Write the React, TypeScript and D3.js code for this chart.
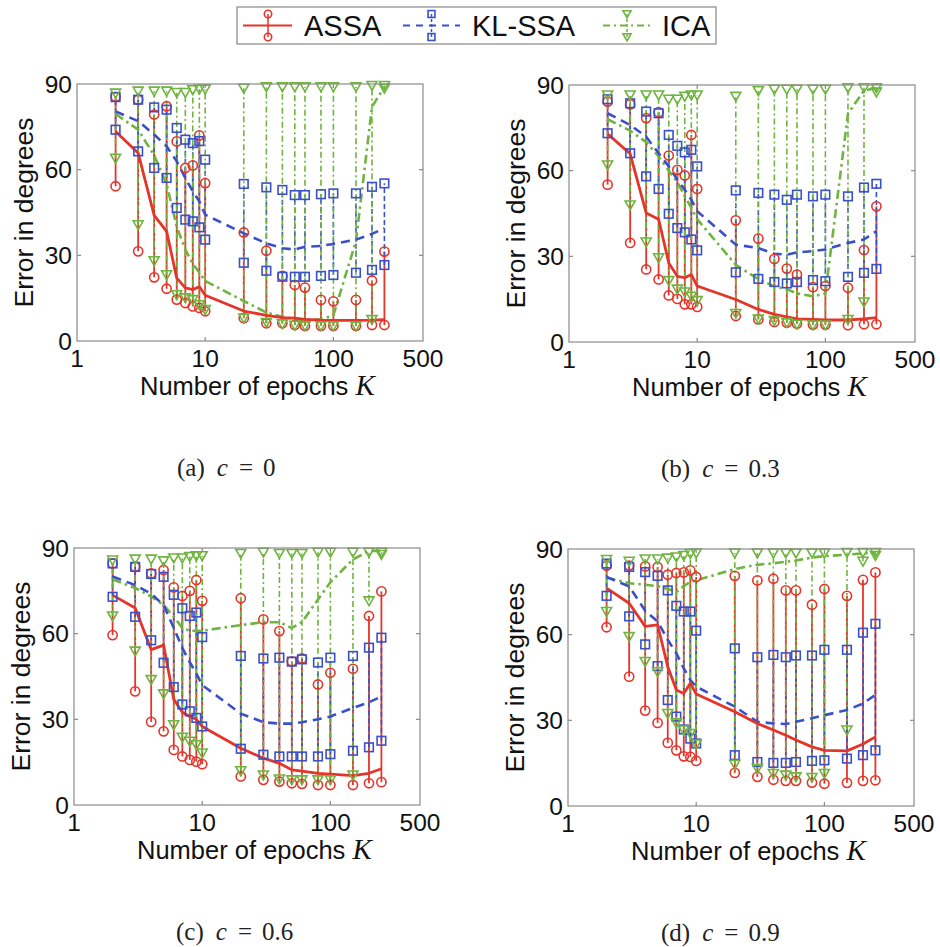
import React from 'react';
import * as d3 from 'd3';

// ---------- data ----------
const K = [2, 3, 4, 5, 6, 7, 8, 9, 10, 20, 30, 40, 50, 60, 80, 100, 150, 200, 250];
const xTickValues = [1, 10, 100, 500];
const yTickValues = [0, 30, 60, 90];
const seriesNames = ['ASSA', 'KL-SSA', 'ICA'];
const panelLetters = ['a', 'b', 'c', 'd'];
const panelC = ['0', '0.3', '0.6', '0.9'];

// panel (a) c = 0
const assaA_mean = [73.4, 65.8, 44, 38.4, 22, 18.6, 18, 19, 16, 10.5, 9, 8.2, 8, 7.6, 7.3, 7.2, 7.2, 7.3, 7.5];
const assaA_up = [85.5, 84.5, 79.3, 82.2, 69.9, 60.6, 61.5, 72, 55.3, 38, 31.6, 22.8, 19.6, 18.7, 14.4, 13.9, 14.4, 21.2, 31.3];
const assaA_lo = [54.2, 31.4, 22.3, 18.3, 14.5, 13.3, 12.1, 11.6, 10.4, 8, 6.2, 6.2, 5.6, 5.3, 5.3, 5.3, 5.3, 5.6, 5.6];
const klA_mean = [80.4, 77, 72.3, 68.2, 62.9, 57.1, 52.4, 48.9, 44.2, 37.7, 34.2, 32.5, 32, 33, 33.3, 34, 35.5, 37.5, 39.5];
const klA_up = [85.4, 84.5, 81.8, 81, 74.6, 70.5, 69.3, 70, 63.5, 55, 53.8, 52.9, 51.1, 51.1, 51.4, 51.7, 51.7, 54, 55.2];
const klA_lo = [74, 66.4, 60.6, 57.1, 46.6, 42.5, 41.9, 39.8, 35.5, 27.4, 24.6, 22.5, 22.5, 22.5, 22.8, 23.1, 23.9, 24.9, 26.6];
const icaA_mean = [79.5, 74, 65, 55, 40, 32, 27, 24, 21, 14, 10, 8.5, 7.5, 7.5, 7.5, 9, 35, 82, 89];
const icaA_up = [86.8, 87.5, 87.5, 87.5, 87, 87, 88, 88.2, 88.2, 88.5, 89, 89, 89, 89, 89, 89, 89, 89.5, 89.5];
const icaA_lo = [64, 40.7, 28.1, 23.2, 16.2, 15.1, 14.5, 12.7, 11, 8, 6.5, 6, 5.5, 5.3, 5.3, 5.3, 5.2, 7.5, 88.5];

// panel (b) c = 0.3
const assaB_mean = [72.9, 65.9, 45.2, 43, 27.7, 23, 22.5, 23.6, 19.6, 14.9, 11.4, 9.7, 8.8, 8.1, 7.9, 7.7, 7.7, 8.1, 8.5];
const assaB_up = [84.2, 83.2, 78.4, 80.5, 65.3, 60.3, 58.3, 72.5, 53.6, 42.6, 36.2, 29.1, 25.7, 23.6, 19.2, 19.6, 19, 32.2, 47.5];
const assaB_lo = [55.1, 34.7, 25.4, 21.9, 16.3, 15.1, 13.2, 13.2, 12.3, 9.1, 7.9, 7, 6.8, 6.4, 6.1, 6.1, 5.9, 6.2, 6.2];
const klB_mean = [80.1, 76, 71.9, 66.1, 61.5, 56.8, 53.3, 49.8, 45.8, 34.1, 32.9, 30.9, 30.6, 31.4, 31.8, 32.4, 34.7, 35.9, 38.8];
const klB_up = [85, 83.6, 80.7, 80.1, 72.5, 68.7, 66.4, 67.3, 61.5, 53.1, 52.2, 51.6, 49.8, 51.6, 51, 51.6, 51, 54.1, 55.4];
const klB_lo = [73.1, 66.1, 58, 53.6, 44.9, 39.9, 38.4, 35.9, 32.1, 24.4, 22.1, 21, 20.5, 21, 21.7, 21.3, 22.8, 24.2, 25.6];
const icaB_mean = [78, 74, 70, 65, 60, 56, 51, 47, 43, 27, 22, 19.5, 18.5, 17, 16, 17, 80, 88, 89];
const icaB_up = [86.5, 86.5, 86.5, 86.5, 85, 85, 86, 86.5, 86.5, 86, 88, 88.5, 88.5, 88.5, 88.5, 88.5, 89, 89, 89];
const icaB_lo = [62, 48, 35, 29.5, 21.5, 18.5, 17.5, 16, 14.5, 10, 8, 7.5, 6.8, 6.2, 5.9, 5.9, 7.9, 14, 87.5];

// panel (c) c = 0.6
const assaC_mean = [73.5, 69, 54.4, 56, 37, 32.5, 31, 30, 27.5, 19.9, 16.4, 14.6, 12.3, 11.9, 11.1, 10.8, 10.3, 11.1, 12.7];
const assaC_up = [84.6, 83.4, 81.1, 82.3, 76.2, 73.2, 75, 78.8, 71.5, 72.4, 65, 60.9, 50.3, 51.3, 42.2, 46.3, 47.7, 66.2, 74.8];
const assaC_lo = [59.5, 39.8, 29.1, 25.8, 19.3, 17, 15.8, 15.2, 14.3, 10, 8.8, 8.2, 7.6, 7.4, 7, 7, 7, 7.6, 8];
const klC_mean = [80, 77, 74, 70, 62, 55, 50, 46, 42, 32, 29, 28.5, 28.5, 29, 30, 31, 34, 36, 38];
const klC_up = [84.6, 83.4, 80.9, 79.9, 73.6, 68.9, 66.2, 67.4, 58.8, 52.2, 51.3, 51.6, 50.2, 51, 49.9, 51.6, 52.2, 55.1, 58.6];
const klC_lo = [72.9, 65.9, 57.7, 49.8, 41.3, 35.2, 32.8, 30.5, 27.5, 19.7, 17.6, 17, 17, 17, 17, 17.8, 19, 20.2, 22.5];
const icaC_mean = [79, 76, 73, 70, 66, 62, 61, 61, 61, 63, 64, 64, 62, 64, 72, 78, 86, 89, 89];
const icaC_up = [85.8, 86.1, 86.1, 85.5, 86.5, 86.5, 87, 87.3, 87.3, 88.1, 88.5, 88.1, 88.1, 88.1, 88.5, 88.5, 88.5, 88.5, 88.5];
const icaC_lo = [66.2, 53.9, 43.9, 38.9, 28.1, 23.7, 22.3, 21.1, 18.2, 12, 10.5, 9.1, 8.8, 8.8, 8.8, 8.8, 10.5, 71.5, 87.7];

// panel (d) c = 0.9
const assaD_mean = [76.3, 71, 62.9, 63.4, 48.8, 40.6, 39.4, 43, 39.2, 33, 28.9, 26.6, 24.8, 23.1, 20.7, 19.5, 19.3, 21.7, 24.2];
const assaD_up = [84.2, 84.2, 83.9, 83.7, 81, 81.6, 81.8, 82.5, 80.2, 80.6, 79, 79.6, 75.5, 75.5, 70.5, 76, 73.6, 79.2, 81.8];
const assaD_lo = [62.6, 45.3, 33.4, 29.1, 22.1, 19.5, 17.4, 17.2, 15.8, 11.6, 10.2, 9.2, 8.8, 8.8, 8.2, 7.8, 8.1, 8.8, 9];
const klD_mean = [80.2, 76.9, 68.4, 64.6, 58.2, 53.5, 48.2, 44.1, 41.8, 34.8, 29.5, 28.9, 28.7, 29.5, 30.7, 31.8, 33.6, 35.9, 38.9];
const klD_up = [84.9, 83.7, 81.9, 80.6, 75.5, 70.1, 68.1, 68.1, 61.4, 55.2, 52.1, 52.9, 52.1, 52.7, 52.7, 54.7, 54.7, 60.7, 63.8];
const klD_lo = [73.6, 66.4, 56.6, 49, 37.1, 31.3, 26.8, 23.6, 21.9, 17.8, 15.4, 15.1, 15.1, 15.4, 15.8, 16, 16.6, 17.8, 19.5];
const icaD_mean = [80, 78, 77.5, 77, 76, 75, 77, 78.5, 79, 83, 84.5, 85, 85.5, 86, 87, 87.5, 88, 88.5, 88.5];
const icaD_up = [86.3, 85.7, 86.5, 86.5, 86.8, 87.2, 87.7, 88.4, 88.6, 88.6, 88.6, 88.6, 88.6, 88.6, 88.6, 88.6, 88.8, 88.8, 88.8];
const icaD_lo = [68.1, 59.3, 50.6, 47, 32.4, 29.1, 26.6, 25.4, 21.7, 14.6, 13.1, 11.4, 10.8, 10.2, 10, 11.4, 26.6, 85.7, 87.7];

// ---------- styles ----------
const RED = '#e5342a';
const BLUE = '#3a50c8';
const GREEN = '#6fb43f';
const AXIS = '#8a8a8a';
const SANS = '"Liberation Sans", Arial, sans-serif';
const SERIF = '"Liberation Serif", "DejaVu Serif", serif';

const STYLES = [
  { color: RED, marker: 'circle', barDash: 'none', lineDash: 'none', lineW: 2.8, barW: 1.8 },
  { color: BLUE, marker: 'square', barDash: '5,3', lineDash: '9,6', lineW: 2.6, barW: 1.6 },
  { color: GREEN, marker: 'tri', barDash: '6,3,2,3', lineDash: '9,4,2.5,4', lineW: 2.6, barW: 1.6 },
];

type Series = { mean: number[]; up: number[]; lo: number[] };

const panels = [
  { left: 77, top: 84, capX: 177, assa: { mean: assaA_mean, up: assaA_up, lo: assaA_lo }, kl: { mean: klA_mean, up: klA_up, lo: klA_lo }, ica: { mean: icaA_mean, up: icaA_up, lo: icaA_lo } },
  { left: 569, top: 85, capX: 661, assa: { mean: assaB_mean, up: assaB_up, lo: assaB_lo }, kl: { mean: klB_mean, up: klB_up, lo: klB_lo }, ica: { mean: icaB_mean, up: icaB_up, lo: icaB_lo } },
  { left: 74, top: 548, capX: 176, assa: { mean: assaC_mean, up: assaC_up, lo: assaC_lo }, kl: { mean: klC_mean, up: klC_up, lo: klC_lo }, ica: { mean: icaC_mean, up: icaC_up, lo: icaC_lo } },
  { left: 568, top: 549, capX: 661, assa: { mean: assaD_mean, up: assaD_up, lo: assaD_lo }, kl: { mean: klD_mean, up: klD_up, lo: klD_lo }, ica: { mean: icaD_mean, up: icaD_up, lo: icaD_lo } },
];

const PW = 346;
const PH = 257;

function Marker({ type, x, y, color, s = 1 }: { type: string; x: number; y: number; color: string; s?: number }) {
  if (type === 'circle') {
    return <circle cx={x} cy={y} r={4.6 * s} fill="none" stroke={color} strokeWidth={1.6} />;
  }
  if (type === 'square') {
    const h = 4.3 * s;
    return <rect x={x - h} y={y - h} width={2 * h} height={2 * h} fill="none" stroke={color} strokeWidth={1.6} />;
  }
  const w = 5 * s;
  const pts = `${x - w},${y - 4 * s} ${x + w},${y - 4 * s} ${x},${y + 4.8 * s}`;
  return <polygon points={pts} fill="none" stroke={color} strokeWidth={1.6} strokeLinejoin="miter" />;
}

function Panel({ idx }: { idx: number }) {
  const p = panels[idx];
  const x = d3.scaleLog().domain([1, 500]).range([p.left, p.left + PW]);
  const y = d3.scaleLinear().domain([0, 90]).range([p.top + PH, p.top]);
  const seriesList: Series[] = [p.assa, p.kl, p.ica];
  const line = (vals: number[]) =>
    d3.line<number>().x((_, i) => x(K[i])).y((v) => y(v))(vals) || '';
  const bottom = p.top + PH;
  const right = p.left + PW;
  return (
    <g>
      {/* error bars */}
      {seriesList.map((s, si) => (
        <g key={'bars' + si}>
          {K.map((k, i) => (
            <line key={i} x1={x(k)} x2={x(k)} y1={y(s.lo[i])} y2={y(s.up[i])} stroke={STYLES[si].color}
              strokeWidth={STYLES[si].barW} strokeDasharray={STYLES[si].barDash} />
          ))}
        </g>
      ))}
      {/* mean lines */}
      {[2, 1, 0].map((si) => (
        <path key={'line' + si} d={line(seriesList[si].mean)} fill="none" stroke={STYLES[si].color}
          strokeWidth={STYLES[si].lineW} strokeDasharray={STYLES[si].lineDash} strokeLinejoin="round" />
      ))}
      {/* markers */}
      {seriesList.map((s, si) => (
        <g key={'mk' + si}>
          {K.map((k, i) => (
            <g key={i}>
              <Marker type={STYLES[si].marker} x={x(k)} y={y(s.up[i])} color={STYLES[si].color} />
              <Marker type={STYLES[si].marker} x={x(k)} y={y(s.lo[i])} color={STYLES[si].color} />
            </g>
          ))}
        </g>
      ))}
      {/* axes box */}
      <rect x={p.left} y={p.top} width={PW} height={PH} fill="none" stroke={AXIS} strokeWidth={1.2} />
      {xTickValues.slice(1, 3).map((t) => (
        <g key={'xt' + t}>
          <line x1={x(t)} x2={x(t)} y1={bottom} y2={bottom - 4} stroke={AXIS} strokeWidth={1.2} />
          <line x1={x(t)} x2={x(t)} y1={p.top} y2={p.top + 4} stroke={AXIS} strokeWidth={1.2} />
        </g>
      ))}
      {yTickValues.slice(1, 3).map((t) => (
        <g key={'yt' + t}>
          <line x1={p.left} x2={p.left + 4} y1={y(t)} y2={y(t)} stroke={AXIS} strokeWidth={1.2} />
          <line x1={right} x2={right - 4} y1={y(t)} y2={y(t)} stroke={AXIS} strokeWidth={1.2} />
        </g>
      ))}
      {xTickValues.map((t) => (
        <text key={'xl' + t} x={x(t)} y={bottom + 25.5} textAnchor="middle" fontFamily={SANS} fontSize={24.5} fill="#111">
          {t}
        </text>
      ))}
      {yTickValues.map((t) => (
        <text key={'yl' + t} x={p.left - 5} y={y(t)} dy="0.36em" textAnchor="end" fontFamily={SANS} fontSize={24.5} fill="#111">
          {t}
        </text>
      ))}
      <text transform={`translate(${p.left - 54},${p.top + PH / 2}) rotate(-90)`} textAnchor="middle" dy="0.36em"
        fontFamily={SANS} fontSize={26.5} fill="#111">
        Error in degrees
      </text>
      <text x={p.left + 63} y={bottom + 54} fontFamily={SANS} fontSize={25.5} fill="#111">
        Number of epochs{' '}
        <tspan fontFamily={SERIF} fontStyle="italic" fontSize={29}>K</tspan>
      </text>
      <text x={p.capX} y={bottom + 135} fontFamily={SERIF} fontSize={25} fill="#222">
        <tspan>({panelLetters[idx]})</tspan>
        <tspan dx={12} fontStyle="italic">c</tspan>
        <tspan dx={11}>=</tspan>
        <tspan dx={10}>{panelC[idx]}</tspan>
      </text>
    </g>
  );
}

function Legend() {
  const items = [
    { x1: 243, x2: 292, mx: 268, tx: 304 },
    { x1: 403, x2: 460, mx: 431.5, tx: 472 },
    { x1: 603, x2: 652, mx: 627, tx: 662 },
  ];
  return (
    <g>
      <rect x={237} y={7} width={479} height={37} fill="#fff" stroke="#888" strokeWidth={1.2} />
      {items.map((it, i) => (
        <g key={i}>
          <line x1={it.x1} x2={it.x2} y1={25.5} y2={25.5} stroke={STYLES[i].color} strokeWidth={2.2}
            strokeDasharray={STYLES[i].lineDash === 'none' ? 'none' : i === 1 ? '7,6' : '7,4,2,4'} />
          <line x1={it.mx} x2={it.mx} y1={14} y2={37} stroke={STYLES[i].color} strokeWidth={1.5}
            strokeDasharray={STYLES[i].barDash === 'none' ? 'none' : '3,2'} />
          <Marker type={STYLES[i].marker} x={it.mx} y={14} color={STYLES[i].color} s={0.8} />
          <Marker type={STYLES[i].marker} x={it.mx} y={37} color={STYLES[i].color} s={0.8} />
          <text x={it.tx} y={36} fontFamily={SANS} fontSize={29} fill="#111">{seriesNames[i]}</text>
        </g>
      ))}
    </g>
  );
}

export default function App() {
  return (
    <svg width={940} height={947} viewBox="0 0 940 947"
      style={{ position: 'absolute', left: 0, top: 0, background: '#fff' }}>
      <rect x={0} y={0} width={940} height={947} fill="#fff" />
      {panels.map((_, i) => (
        <Panel key={i} idx={i} />
      ))}
      <Legend />
    </svg>
  );
}
